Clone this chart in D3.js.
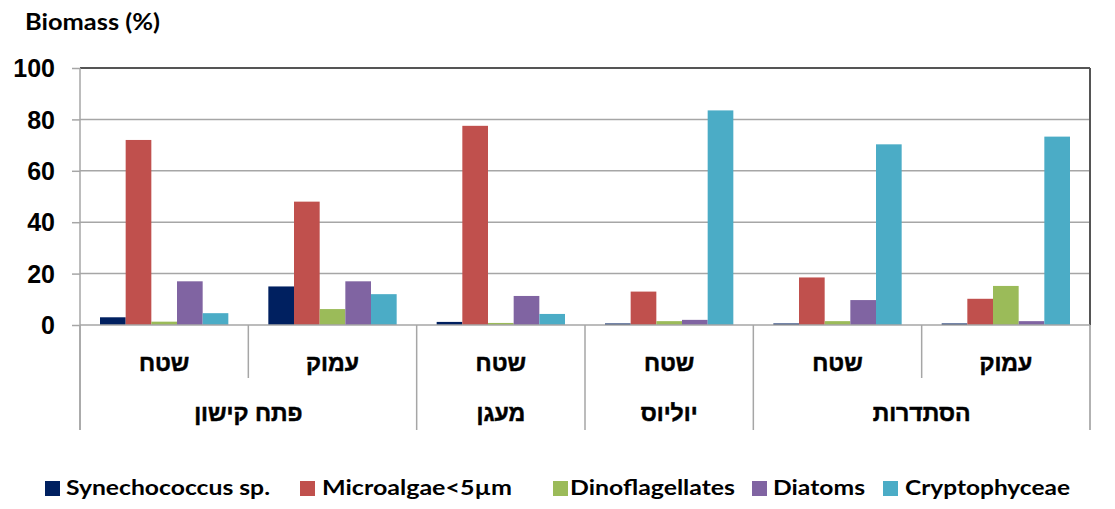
<!DOCTYPE html>
<html><head><meta charset="utf-8">
<script src="https://cdn.jsdelivr.net/npm/d3@7"></script>
<style>html,body{margin:0;padding:0;background:#fff;}svg{display:block;}</style>
</head><body>
<svg id="chart" width="1115" height="509"></svg>
<script>
const categories = ["שטח","עמוק","שטח","שטח","שטח","עמוק"];
const groupNames = ["פתח קישון","מעגן","יוליוס","הסתדרות"];
const groupSizes = [2,1,1,2];
const seriesNames = ["Synechococcus sp.","Microalgae<5µm","Dinoflagellates","Diatoms","Cryptophyceae"];
const synechococcus = [3, 15, 1.2, 0.6, 0.6, 0.6];
const microalgae = [72, 48, 77.5, 13, 18.5, 10.2];
const dinoflagellates = [1.3, 6.2, 0.8, 1.5, 1.5, 15.2];
const diatoms = [17, 17, 11.3, 2, 9.7, 1.5];
const cryptophyceae = [4.6, 12, 4.3, 83.5, 70.3, 73.3];
const yTicks = [0,20,40,60,80,100];
const colors = ["#002060","#C0504D","#9BBB59","#8064A2","#4BACC6"];

const seriesVals = [synechococcus, microalgae, dinoflagellates, diatoms, cryptophyceae];
const svg = d3.select("#chart");
const L = 80, R = 1090, T = 68, B = 325;
const idx = categories.map((d,i)=>i);
const x0 = d3.scaleBand().domain(idx).range([L,R]).padding(0);
const x1 = d3.scaleBand().domain(d3.range(seriesNames.length)).range([20, x0.bandwidth()-20]).padding(0);
const y = d3.scaleLinear().domain([0,100]).range([B,T]);

// gridlines
svg.append("g").selectAll("line").data(yTicks.filter(t=>t>0)).join("line")
  .attr("x1",L).attr("x2",R).attr("y1",d=>y(d)).attr("y2",d=>y(d))
  .attr("stroke", d=>d===100?"#555":"#a6a6a6").attr("stroke-width",d=>d===100?2:1.5);
// right border
svg.append("line").attr("x1",R).attr("x2",R).attr("y1",T).attr("y2",B).attr("stroke","#555").attr("stroke-width",2);

// y axis
const yAxis = d3.axisLeft(y).tickValues(yTicks).tickSize(8).tickPadding(17);
const gy = svg.append("g").attr("transform",`translate(${L},0)`).call(yAxis);
gy.select(".domain").remove();
gy.selectAll(".tick line").attr("stroke","#a6a6a6").attr("stroke-width",1.5);
gy.selectAll(".tick text").attr("font-family","'Liberation Sans Narrow','Liberation Sans',Arial,sans-serif")
  .attr("font-weight","bold").attr("font-size","25px").attr("fill","#000").attr("dy","0.35em");
svg.append("line").attr("x1",L).attr("x2",L).attr("y1",T).attr("y2",430).attr("stroke","#a6a6a6").attr("stroke-width",1.5);

// bars
idx.forEach(i=>{
  svg.append("g").selectAll("rect").data(seriesVals.map((s,k)=>({k, v:s[i]}))).join("rect")
    .attr("x",d=>x0(i)+x1(d.k)).attr("width",x1.bandwidth())
    .attr("y",d=>y(d.v)).attr("height",d=>B-y(d.v))
    .attr("fill",d=>colors[d.k]);
});

// baseline
svg.append("line").attr("x1",L).attr("x2",R).attr("y1",B).attr("y2",B).attr("stroke","#a6a6a6").attr("stroke-width",1.5);

// category dividers
let pos = 0; const outerIdx = new Set([0]);
groupSizes.forEach(s=>{pos+=s; outerIdx.add(pos);});
for(let i=0;i<=categories.length;i++){
  const xx = i<categories.length ? x0(i) : R;
  svg.append("line").attr("x1",xx).attr("x2",xx).attr("y1",B).attr("y2",outerIdx.has(i)?430:378)
    .attr("stroke", i===categories.length?"#999":"#a6a6a6").attr("stroke-width",1.5);
}
const hebFont = "'Liberation Sans','DejaVu Sans',Arial,sans-serif";
svg.append("g").selectAll("text").data(categories).join("text")
  .attr("x",(d,i)=>x0(i)+x0.bandwidth()/2).attr("y",363).attr("dy","0.35em")
  .attr("text-anchor","middle").attr("font-family",hebFont).attr("font-weight","bold").attr("font-size","23px")
  .attr("stroke","#000").attr("stroke-width",0.5)
  .text(d=>d);
let start = 0;
groupNames.forEach((g,gi)=>{
  const a = x0(start), e = start+groupSizes[gi] < categories.length ? x0(start+groupSizes[gi]) : R;
  svg.append("text").attr("x",(a+e)/2).attr("y",413).attr("dy","0.35em").attr("text-anchor","middle")
    .attr("font-family",hebFont).attr("font-weight","bold").attr("font-size","23px")
    .attr("stroke","#000").attr("stroke-width",0.5).text(g);
  start += groupSizes[gi];
});

// title
svg.append("text").attr("x",25).attr("y",22).attr("dy","0.35em")
  .attr("font-family","Lato,'Liberation Sans',sans-serif").attr("font-weight","bold").attr("font-size","23px")
  .attr("textLength",135).attr("lengthAdjust","spacingAndGlyphs").text("Biomass (%)");

// legend
const legSq = [45,300,553,752,883];
const legTx = [[66,204],[322,190],[570,165],[773,92],[905,165]];
seriesNames.forEach((n,k)=>{
  svg.append("rect").attr("x",legSq[k]).attr("y",481).attr("width",15).attr("height",15).attr("fill",colors[k]);
  svg.append("text").attr("x",legTx[k][0]).attr("y",488).attr("dy","0.35em")
    .attr("font-family","Lato,'Liberation Sans',sans-serif").attr("font-weight","bold").attr("font-size","21px")
    .attr("textLength",legTx[k][1]).attr("lengthAdjust","spacingAndGlyphs").text(n);
});
</script>
</body></html>
